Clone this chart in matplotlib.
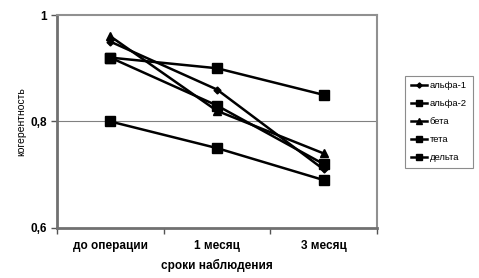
import matplotlib
matplotlib.use("Agg")
import matplotlib.pyplot as plt
from matplotlib.ticker import FuncFormatter

plt.rcParams["font.family"] = ["Liberation Sans", "DejaVu Sans"]

# Data
categories = ["до операции", "1 месяц", "3 месяц"]
series_names = ["альфа-1", "альфа-2", "бета", "тета", "дельта"]
alpha1 = [0.95, 0.86, 0.71]
alpha2 = [0.92, 0.83, 0.72]
beta = [0.96, 0.82, 0.74]
theta = [0.92, 0.90, 0.85]
delta = [0.80, 0.75, 0.69]
y_ticks = [0.6, 0.8, 1.0]

values = [alpha1, alpha2, beta, theta, delta]
markers = ["D", "s", "^", "s", "s"]
msizes = [3.5, 6.5, 5.5, 6.5, 6.5]

fig = plt.figure(figsize=(4.79, 2.78), dpi=100)
ax = fig.add_axes([0.119, 0.180, 0.668, 0.766])

x = list(range(len(categories)))
for name, vals, m, ms in zip(series_names, values, markers, msizes):
    ax.plot(x, vals, color="black", linewidth=1.8, marker=m, markersize=ms,
            markerfacecolor="black", markeredgecolor="black", label=name)

ax.set_xlim(-0.5, len(categories) - 0.5)
ax.set_ylim(0.6, 1.0)
ax.set_yticks(y_ticks)
ax.yaxis.set_major_formatter(FuncFormatter(
    lambda v, p: ("%g" % v).replace(".", ",")))
ax.axhline(0.8, color="#808080", linewidth=0.8, zorder=0)

# category boundaries as x ticks, labels in the middle
ax.set_xticks([i - 0.5 for i in range(len(categories) + 1)])
ax.set_xticklabels([])
ax.set_xticks(x, minor=True)
ax.set_xticklabels(categories, minor=True, fontsize=8.5, fontweight="bold")
ax.tick_params(axis="x", which="minor", length=0, pad=9)
ax.tick_params(axis="x", which="major", length=4, width=1, color="#555555")
ax.tick_params(axis="y", length=4, width=1, color="#555555", labelsize=8.5, pad=3)
for lab in ax.get_yticklabels():
    lab.set_fontweight("bold")

for side in ["left", "bottom"]:
    ax.spines[side].set_color("#707070")
    ax.spines[side].set_linewidth(2)
for side in ["top", "right"]:
    ax.spines[side].set_color("#909090")
    ax.spines[side].set_linewidth(1.5)

ax.set_ylabel("когерентность", fontsize=7.5, labelpad=3)
ax.set_xlabel("сроки наблюдения", fontsize=8.5, fontweight="bold", labelpad=5)

leg = fig.legend(loc="upper left", bbox_to_anchor=(0.836, 0.745), fontsize=6.8,
                 frameon=True, fancybox=False, edgecolor="#707070",
                 handlelength=1.7, labelspacing=0.95, borderpad=0.6,
                 handletextpad=0.3, markerscale=0.75)
leg.get_frame().set_linewidth(0.8)

fig.savefig("out.png", dpi=100)
